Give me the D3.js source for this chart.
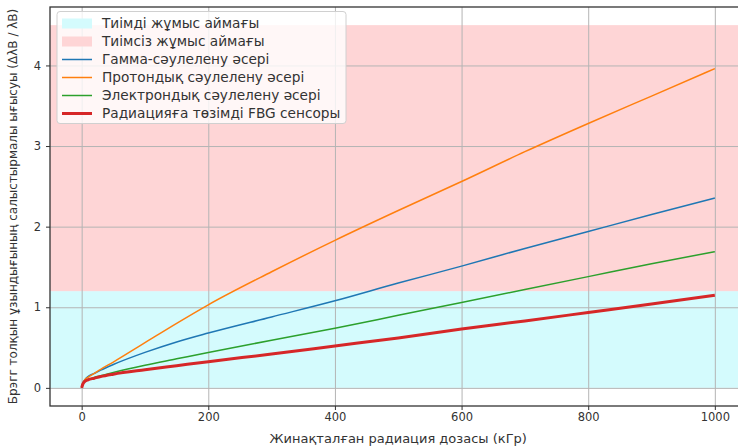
<!DOCTYPE html>
<html>
<head>
<meta charset="utf-8">
<script src="https://cdn.jsdelivr.net/npm/d3@7"></script>
<style>
  body { margin: 0; background: #fff; }
  text { font-family: "DejaVu Sans", sans-serif; }
</style>
</head>
<body>
<div id="chart"></div>
<script>
// Chart values

let doses    = [0, 2, 5, 10, 20, 30, 50, 100, 150, 200, 300, 400, 500, 600, 700, 800, 900, 1000];
let gamma    = [0, 0.06, 0.10, 0.14, 0.18, 0.22, 0.29, 0.44, 0.57, 0.68, 0.88, 1.08, 1.30, 1.51, 1.73, 1.94, 2.15, 2.355];
let proton   = [0, 0.06, 0.10, 0.13, 0.18, 0.23, 0.32, 0.56, 0.80, 1.03, 1.44, 1.83, 2.20, 2.56, 2.93, 3.28, 3.62, 3.96];
let electron = [0, 0.05, 0.08, 0.10, 0.13, 0.15, 0.19, 0.28, 0.36, 0.44, 0.59, 0.74, 0.90, 1.06, 1.22, 1.38, 1.54, 1.69];
let sensor   = [0, 0.05, 0.08, 0.10, 0.12, 0.14, 0.17, 0.225, 0.275, 0.325, 0.42, 0.52, 0.62, 0.73, 0.83, 0.935, 1.04, 1.15];

let effectiveZone   = [0, 1.2];
let ineffectiveZone = [1.2, 4.5];

let xTicks = [0, 200, 400, 600, 800, 1000];
let yTicks = [0, 1, 2, 3, 4];

let xTitle = "Жинақталған радиация дозасы (кГр)";
let yTitle = "Брэгг толқын ұзындығының салыстырмалы ығысуы (ΔλB / λB)";

let legendLabels = [
  "Тиімді жұмыс аймағы",
  "Тиімсіз жұмыс аймағы",
  "Гамма-сәулелену әсері",
  "Протондық сәулелену әсері",
  "Электрондық сәулелену әсері",
  "Радиацияға төзімді FBG сенсоры"
];

////////////////////////////////////////////////////////////////////////
// Setup

let width = 738, height = 448;

let xScale = d3.scaleLinear().domain([-50, 1050]).range([50, 746.5]);
let yScale = d3.scaleLinear().domain([-0.225, 4.725]).range([406, 7]);

let svg = d3.select("#chart").append("svg")
  .attr("width", width)
  .attr("height", height);

svg.append("clipPath").attr("id", "plot-area")
  .append("rect")
  .attr("x", xScale.range()[0])
  .attr("y", yScale.range()[1])
  .attr("width", xScale.range()[1] - xScale.range()[0])
  .attr("height", yScale.range()[0] - yScale.range()[1]);

let plot = svg.append("g").attr("clip-path", "url(#plot-area)");

// shaded zones (axhspan)
let zones = [
  { range: effectiveZone, fill: "#d4fbfd" },
  { range: ineffectiveZone, fill: "#fed5d6" }
];

plot.selectAll("rect.zone")
  .data(zones)
  .enter()
  .append("rect")
  .attr("class", "zone")
  .attr("x", xScale.range()[0])
  .attr("width", xScale.range()[1] - xScale.range()[0])
  .attr("y", d => yScale(d.range[1]))
  .attr("height", d => yScale(d.range[0]) - yScale(d.range[1]))
  .attr("fill", d => d.fill);

// grid
plot.append("g")
  .attr("transform", "translate(0," + yScale.range()[1] + ")")
  .call(d3.axisBottom(xScale).tickValues(xTicks).tickSize(yScale.range()[0] - yScale.range()[1]).tickFormat(""))
  .call(g => g.select(".domain").remove())
  .selectAll("line").attr("stroke", "#b4b4b4").attr("stroke-width", 1);

plot.append("g")
  .attr("transform", "translate(" + xScale.range()[0] + ",0)")
  .call(d3.axisRight(yScale).tickValues(yTicks).tickSize(xScale.range()[1] - xScale.range()[0]).tickFormat(""))
  .call(g => g.select(".domain").remove())
  .selectAll("line").attr("stroke", "#b4b4b4").attr("stroke-width", 1);

// series
let series = [
  { values: gamma, color: "#1f77b4", width: 1.5 },
  { values: proton, color: "#ff7f0e", width: 1.5 },
  { values: electron, color: "#2ca02c", width: 1.5 },
  { values: sensor, color: "#d62728", width: 3 }
];

let line = d3.line()
  .x(d => xScale(d[0]))
  .y(d => yScale(d[1]))
  .curve(d3.curveMonotoneX);

plot.selectAll("path.series")
  .data(series)
  .enter()
  .append("path")
  .attr("class", "series")
  .attr("fill", "none")
  .attr("stroke", d => d.color)
  .attr("stroke-width", d => d.width)
  .attr("stroke-linejoin", "round")
  .attr("d", d => line(doses.map((x, i) => [x, d.values[i]])));

// axes with labels
let xAx = svg.append("g")
  .attr("transform", "translate(0," + yScale.range()[0] + ")")
  .call(d3.axisBottom(xScale).tickValues(xTicks).tickFormat(d3.format("d"))
    .tickSize(4).tickPadding(3).tickSizeOuter(0));
xAx.select(".domain").remove();
xAx.selectAll("text").attr("font-size", 11.5).attr("fill", "#333");
xAx.selectAll("line").attr("stroke", "#333");

let yAx = svg.append("g")
  .attr("transform", "translate(" + xScale.range()[0] + ",0)")
  .call(d3.axisLeft(yScale).tickValues(yTicks).tickFormat(d3.format("d"))
    .tickSize(4).tickPadding(5).tickSizeOuter(0));
yAx.select(".domain").remove();
yAx.selectAll("text").attr("font-size", 11.5).attr("fill", "#333");
yAx.selectAll("line").attr("stroke", "#333");

// frame
svg.append("rect")
  .attr("x", xScale.range()[0])
  .attr("y", yScale.range()[1])
  .attr("width", xScale.range()[1] - xScale.range()[0])
  .attr("height", yScale.range()[0] - yScale.range()[1])
  .attr("fill", "none")
  .attr("stroke", "#333")
  .attr("stroke-width", 1.3);

// titles
svg.append("text")
  .attr("x", (xScale.range()[0] + xScale.range()[1]) / 2)
  .attr("y", 443)
  .attr("text-anchor", "middle")
  .attr("font-size", 13)
  .attr("fill", "#333")
  .text(xTitle);

svg.append("text")
  .attr("transform", "translate(17," + (yScale.range()[0] + yScale.range()[1]) / 2 + ") rotate(-90)")
  .attr("text-anchor", "middle")
  .attr("font-size", 12)
  .attr("fill", "#333")
  .text(yTitle);

// legend
let legend = svg.append("g");

legend.append("rect")
  .attr("x", 57)
  .attr("y", 11.5)
  .attr("width", 289)
  .attr("height", 112)
  .attr("rx", 3)
  .attr("fill", "rgba(255,255,255,0.8)")
  .attr("stroke", "#d0d0d0");

let legendItems = [
  { kind: "patch", fill: "#d4fbfd" },
  { kind: "patch", fill: "#fed5d6" },
  { kind: "line", color: "#1f77b4", width: 1.5 },
  { kind: "line", color: "#ff7f0e", width: 1.5 },
  { kind: "line", color: "#2ca02c", width: 1.5 },
  { kind: "line", color: "#d62728", width: 3 }
];

let rows = legend.selectAll("g.row")
  .data(legendItems)
  .enter()
  .append("g")
  .attr("class", "row")
  .attr("transform", (d, i) => "translate(0," + (23.5 + i * 18) + ")");

rows.filter(d => d.kind == "patch").append("rect")
  .attr("x", 62).attr("y", -5).attr("width", 30).attr("height", 10)
  .attr("fill", d => d.fill);

rows.filter(d => d.kind == "line").append("line")
  .attr("x1", 62).attr("x2", 92).attr("y1", 0).attr("y2", 0)
  .attr("stroke", d => d.color)
  .attr("stroke-width", d => d.width);

rows.append("text")
  .attr("x", 102)
  .attr("y", 0)
  .attr("dy", "0.35em")
  .attr("font-size", 13.7)
  .attr("fill", "#333")
  .text((d, i) => legendLabels[i]);
</script>
</body>
</html>
